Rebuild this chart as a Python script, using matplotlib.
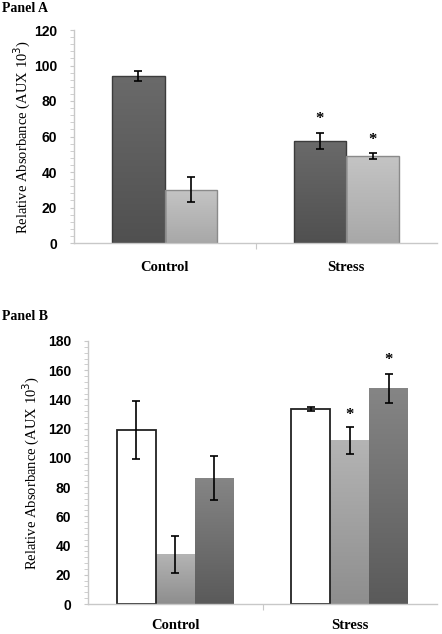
import numpy as np
import matplotlib
matplotlib.use("Agg")
import matplotlib.pyplot as plt
from matplotlib.colors import LinearSegmentedColormap
from matplotlib.ticker import MultipleLocator

categories = ['Control', 'Stress']

# Panel A: two series
a_dark = [94, 57.5]
a_dark_err = [2.8, 4.7]
a_light = [30, 49]
a_light_err = [7, 1.6]
a_stars = [False, True]

# Panel B: three series
b_white = [119, 133.5]
b_white_err = [20, 1.5]
b_light = [34, 112]
b_light_err = [12.5, 9]
b_dark = [86, 147.5]
b_dark_err = [15, 10]
b_stars = [False, True]

W, H = 442, 634
fig = plt.figure(figsize=(W / 100, H / 100), dpi=100)

serif = ['Liberation Serif', 'DejaVu Serif']
sans = ['Liberation Sans', 'DejaVu Sans']


def gradient(ax, bars, top_c, bot_c):
    cmap = LinearSegmentedColormap.from_list('g', [bot_c, top_c])
    grad = np.linspace(0, 1, 100).reshape(-1, 1)
    for b in bars:
        x0, y0 = b.get_xy()
        im = ax.imshow(grad, extent=[x0, x0 + b.get_width(), y0, y0 + b.get_height()],
                       origin='lower', aspect='auto', cmap=cmap, zorder=b.get_zorder() - 0.1)
        im.set_clip_path(b)


def style_axes(ax, ymax, ylab_x):
    for s in ['top', 'right']:
        ax.spines[s].set_visible(False)
    for s in ['left', 'bottom']:
        ax.spines[s].set_color('#c8c8c8')
        ax.spines[s].set_linewidth(1.0)
    ax.set_xlim(-0.5, 1.5)
    ax.set_ylim(0, ymax)
    ax.yaxis.set_major_locator(MultipleLocator(20))
    ax.yaxis.set_minor_locator(MultipleLocator(4))
    ax.tick_params(axis='y', which='both', direction='out', color='#c8c8c8', length=3, pad=9)
    ax.tick_params(axis='x', direction='out', color='#c8c8c8', length=4, labelbottom=False)
    ax.set_xticks([0.5])
    for lab in ax.get_yticklabels():
        lab.set_fontfamily(sans)
        lab.set_fontweight('bold')
        lab.set_fontsize(10)
    ax.text(ylab_x, 0.5, 'Relative Absorbance (AUX 10$^3$)', transform=ax.transAxes,
            rotation=90, ha='center', va='center', fontfamily=serif, fontsize=10.5)


# ---------------- Panel A ----------------
axA = fig.add_axes([74 / W, 1 - 243 / H, 363 / W, 213 / H])
x = np.arange(len(categories))
wA = 0.29
b1 = axA.bar(x - wA / 2, a_dark, wA, color='none', edgecolor='#3c3c3c', linewidth=1.0, zorder=2)
b2 = axA.bar(x + wA / 2, a_light, wA, color='none', edgecolor='#8a8a8a', linewidth=1.0, zorder=2)
gradient(axA, b1, '#6a6a6a', '#505050')
gradient(axA, b2, '#c4c4c4', '#a8a8a8')
axA.errorbar(x - wA / 2, a_dark, yerr=a_dark_err, fmt='none', ecolor='black', capsize=3, elinewidth=1.2, capthick=1.2, zorder=3)
axA.errorbar(x + wA / 2, a_light, yerr=a_light_err, fmt='none', ecolor='black', capsize=3, elinewidth=1.2, capthick=1.2, zorder=3)
for i, s in enumerate(a_stars):
    if s:
        axA.text(x[i] - wA / 2, a_dark[i] + a_dark_err[i] + 3, '*', ha='center', va='bottom', fontsize=12, fontweight='bold', fontfamily=serif)
        axA.text(x[i] + wA / 2, a_light[i] + a_light_err[i] + 3, '*', ha='center', va='bottom', fontsize=12, fontweight='bold', fontfamily=serif)
style_axes(axA, 120, (22 - 74) / 363)
for i, c in enumerate(categories):
    axA.text(x[i], -0.117, c, transform=axA.get_xaxis_transform(), ha='center', va='center',
             fontfamily=serif, fontweight='bold', fontsize=10.5)
fig.text(2 / W, 1 - 8 / H, 'Panel A', ha='left', va='center', fontfamily=serif, fontweight='bold', fontsize=10)

# ---------------- Panel B ----------------
axB = fig.add_axes([88 / W, 30 / H, 349 / W, 263 / H])
wB = 0.223
c1 = axB.bar(x - wB, b_white, wB, color='white', edgecolor='#222222', linewidth=1.3, zorder=2)
c2 = axB.bar(x, b_light, wB, color='none', edgecolor='none', zorder=2)
c3 = axB.bar(x + wB, b_dark, wB, color='none', edgecolor='none', zorder=2)
gradient(axB, c2, '#b4b4b4', '#8e8e8e')
gradient(axB, c3, '#858585', '#5a5a5a')
for xs, vals, errs in [(x - wB, b_white, b_white_err), (x, b_light, b_light_err), (x + wB, b_dark, b_dark_err)]:
    axB.errorbar(xs, vals, yerr=errs, fmt='none', ecolor='black', capsize=3, elinewidth=1.2, capthick=1.2, zorder=3)
for i, s in enumerate(b_stars):
    if s:
        axB.text(x[i], b_light[i] + b_light_err[i] + 3, '*', ha='center', va='bottom', fontsize=12, fontweight='bold', fontfamily=serif)
        axB.text(x[i] + wB, b_dark[i] + b_dark_err[i] + 4, '*', ha='center', va='bottom', fontsize=12, fontweight='bold', fontfamily=serif)
style_axes(axB, 180, (31 - 88) / 349)
for i, c in enumerate(categories):
    axB.text(x[i], -0.08, c, transform=axB.get_xaxis_transform(), ha='center', va='center',
             fontfamily=serif, fontweight='bold', fontsize=10.5)
fig.text(2 / W, 1 - 317 / H, 'Panel B', ha='left', va='center', fontfamily=serif, fontweight='bold', fontsize=10)

fig.savefig('out.png', dpi=100)
